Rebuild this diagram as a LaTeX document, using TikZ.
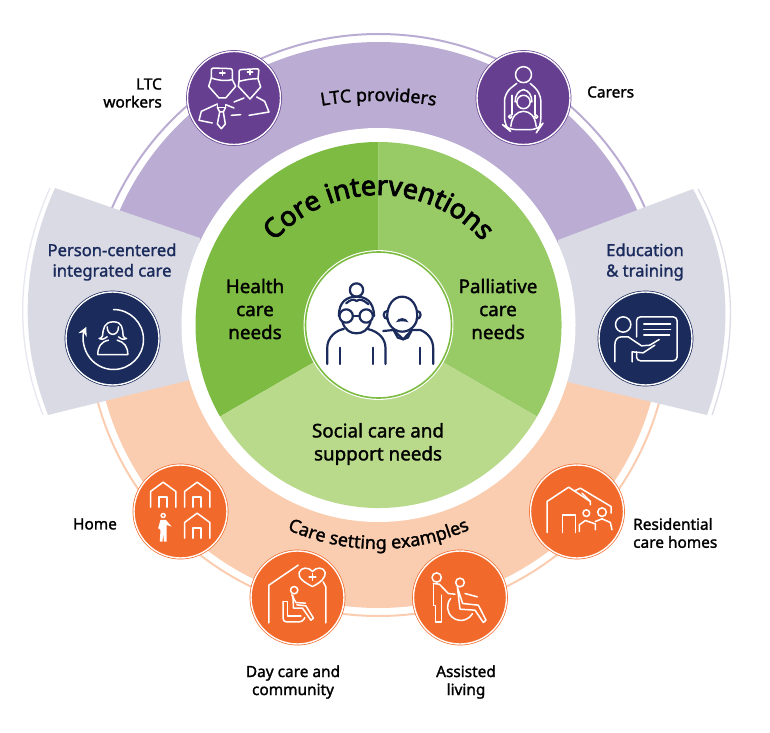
\documentclass[tikz,border=0pt]{standalone}
\usepackage{fontspec}
\usepackage{xcolor}
\usetikzlibrary{positioning, decorations.text, arrows.meta}
\setmainfont{Noto Sans}
\newfontfamily\labelfont[FakeBold=1.6]{Noto Sans}
\newfontfamily\titlefont[FakeBold=3.2]{Noto Sans}
\definecolor{cpurple}{HTML}{673F91}
\definecolor{cpurplelight}{HTML}{BAACD2}
\definecolor{corange}{HTML}{F26A2B}
\definecolor{corangelight}{HTML}{FBCDB0}
\definecolor{cnavy}{HTML}{1A2B5C}
\definecolor{cgrey}{HTML}{DADAE5}
\definecolor{cgreyline}{HTML}{DCDCE8}
\definecolor{cgreendark}{HTML}{7DBB42}
\definecolor{cgreenmid}{HTML}{98CA66}
\definecolor{cgreenlight}{HTML}{B9DA8B}

\begin{document}
\begin{tikzpicture}[
	x=1pt, y=1pt,
	% Estilo para los circulos de iconos
	badge/.style={
		circle,
		draw=#1,
		fill=#1,
		double=white,
		double distance=1.4pt,
		line width=0.7pt,
		minimum size=93pt,
		inner sep=0pt
	},
	% Circulo central
	hub/.style={
		circle,
		draw=white,
		fill=white,
		double=cgreendark,
		double distance=1.6pt,
		line width=1.1pt,
		minimum size=146pt,
		inner sep=0pt
	},
	% Estilo para los textos
	outerlabel/.style={
		font=\labelfont\fontsize{15.4}{18}\selectfont,
		align=center,
		inner sep=0pt
	},
	sidelabel/.style={
		font=\labelfont\fontsize{16.6}{20.5}\selectfont,
		text=cnavy,
		align=center,
		inner sep=0pt
	},
	needlabel/.style={
		font=\labelfont\fontsize{18.8}{23}\selectfont,
		align=center,
		inner sep=0pt
	},
	% Iconos dibujados en coordenadas locales
	icon/.style={shift={(#1.center)}, scale=1/3, yscale=-1},
	iconline/.style={white, line width=1.5pt, line cap=round, line join=round},
	elderline/.style={cnavy, line width=2.2pt, line cap=round, line join=round}
	]
	
	\useasboundingbox (0,0) rectangle (770,732);
	
	% --- Bandas exteriores ---
	\begin{scope}[shift={(378.5,407)}]
		\fill[cpurplelight] (0:283) arc[start angle=0, end angle=180, radius=283pt] -- cycle;
		\fill[corangelight] (180:283) arc[start angle=180, end angle=360, radius=283pt] -- cycle;
		\draw[cpurplelight, line width=2pt] (0:291) arc[start angle=0, end angle=180, radius=291pt];
		\draw[corangelight, line width=2pt] (180:291) arc[start angle=180, end angle=360, radius=291pt];
	\end{scope}
	
	% --- Sectores grises ---
	\fill[cgrey] (200,494) -- (55,544) .. controls (22,470) and (18,393) .. (48,317) -- (190,352) -- cycle;
	\fill[cgrey] (558,492) -- (693,543) .. controls (733,470) and (734,393) .. (707,317) -- (568,350) -- cycle;
	\draw[cgreyline!70, line width=1.3pt] (50,544) .. controls (17,470) and (13,393) .. (43,317);
	\draw[cgreyline, line width=1.3pt] (698,543) .. controls (738,470) and (739,393) .. (712,317);
	
	% --- Circulo de necesidades ---
	\begin{scope}[shift={(378.5,407)}]
		\fill[white] (0,0) circle[radius=197pt];
		\fill[cgreendark] (0,0) -- (90:183) arc[start angle=90, end angle=210, radius=183pt] -- cycle;
		\fill[cgreenmid] (0,0) -- (-30:183) arc[start angle=-30, end angle=90, radius=183pt] -- cycle;
		\fill[cgreenlight] (0,0) -- (210:183) arc[start angle=210, end angle=330, radius=183pt] -- cycle;
		
		% Textos curvos
		\path[decorate, decoration={text along path, text align=center,
			text={|\titlefont\fontsize{27}{27}\selectfont|Core interventions}}]
			(0,-10) ++(150:140) arc[start angle=150, end angle=30, radius=140pt];
		\path[decorate, decoration={text along path, text align=center,
			text={|\labelfont\fontsize{17.8}{20}\selectfont|LTC providers}}]
			(0,-116) ++(105:340) arc[start angle=105, end angle=75, radius=340pt];
		\path[decorate, decoration={text along path, text align=center,
			text={|\labelfont\fontsize{18}{20}\selectfont|Care setting examples}}]
			(215:224) arc[start angle=215, end angle=325, radius=224pt];
	\end{scope}
	
	% Nodos de texto
	\node[needlabel] (health) at (255,423) {Health\\care\\needs};
	\node[needlabel] (palliative) at (498,423) {Palliative\\care\\needs};
	\node[needlabel] (social) at (378,288) {Social care and\\support needs};
	\node[sidelabel] (personlabel) at (112,470) {Person-centered\\integrated care};
	\node[sidelabel] (educationlabel) at (645,470) {Education\\\& training};
	\node[outerlabel, anchor=east, align=right] (workerslabel) at (162,639) {LTC\\workers};
	\node[outerlabel, anchor=west] (carerslabel) at (587,640) {Carers};
	\node[outerlabel] (homelabel) at (95,208) {Home};
	\node[outerlabel, anchor=west, align=left] (residentiallabel) at (633,199) {Residential\\care homes};
	\node[outerlabel] (daycarelabel) at (293,50) {Day care and\\community};
	\node[outerlabel] (assistedlabel) at (466,50) {Assisted\\living};
	
	% Circulos de iconos
	\node[hub] (elders) at (378.5,407) {};
	\node[badge=cpurple] (workers) at (234,634) {};
	\node[badge=cpurple] (carers) at (523.5,634) {};
	\node[badge=cnavy] (person) at (112.5,393.5) {};
	\node[badge=cnavy] (education) at (645.5,393.5) {};
	\node[badge=corange] (home) at (180.5,220.5) {};
	\node[badge=corange] (daycare) at (297.5,134.5) {};
	\node[badge=corange] (assisted) at (460,134.5) {};
	\node[badge=corange] (residential) at (577,220.5) {};
	
	% --- Pareja de ancianos ---
	\begin{scope}[icon=elders, elderline]
		\draw (-66,-105) circle[radius=20pt];
		\draw (-119,-27) .. controls (-119,-70) and (-95,-85) .. (-66,-85) .. controls (-37,-85) and (-15,-70) .. (-13,-27);
		\draw (-97,-27) circle[radius=20pt];
		\draw (-37,-27) circle[radius=20pt];
		\draw (-77,-27) -- (-57,-27);
		\draw (-108,-8) .. controls (-100,15) and (-85,25) .. (-66,25) .. controls (-47,25) and (-32,15) .. (-24,-8);
		\draw (-97,-65) .. controls (-85,-75) and (-75,-80) .. (-66,-72) .. controls (-55,-80) and (-45,-75) .. (-30,-62);
		\draw (-154,117) -- (-154,70) .. controls (-154,35) and (-125,15) .. (-104,12);
		\draw (-32,12) .. controls (0,20) and (21,40) .. (21,70) -- (21,117);
		\draw (-116,68) -- (-116,117);
		\draw (-17,68) -- (-17,117);
		\draw (26,-25) .. controls (26,-60) and (45,-85) .. (71,-85) .. controls (97,-85) and (118,-60) .. (116,-25) .. controls (116,0) and (95,20) .. (71,20) .. controls (47,20) and (28,0) .. cycle;
		\draw (26,-42) .. controls (12,-42) and (12,-18) .. (28,-18);
		\draw (116,-42) .. controls (130,-42) and (130,-18) .. (114,-18);
		\fill[cnavy] (52,-8) .. controls (58,-25) and (84,-25) .. (90,-8) .. controls (80,-12) and (62,-12) .. cycle;
		\draw (14,18) -- (45,15) -- (74,43) -- (100,15) -- (126,15);
		\draw (45,15) -- (58,38) -- (74,43) -- (88,38) -- (100,15);
		\draw (126,15) .. controls (150,25) and (164,45) .. (164,70) -- (164,117);
		\draw (124,68) -- (124,117);
	\end{scope}
	
	% --- Enfermeras ---
	\begin{scope}[icon=workers, iconline]
		\draw[rounded corners=2pt] (-68,-60) -- (-68,-90) -- (-5,-88) -- (-5,-55);
		\draw (-68,-60) .. controls (-45,-52) and (-25,-50) .. (-5,-55);
		\draw (-35,-82) -- (-35,-68) (-43,-75) -- (-27,-75);
		\draw (-68,-60) -- (-76,-35) -- (-45,0) -- (-25,0) -- (5,-35) -- (-5,-55);
		\draw (-65,75) -- (-105,67) -- (-98,40) -- (-50,18);
		\draw (-50,22) -- (-50,28) -- (-25,28) -- (-25,22);
		\draw (-50,28) -- (-43,42) -- (-32,42) -- (-25,28);
		\draw (-43,42) -- (-50,78) -- (-38,92) -- (-26,78) -- (-32,42);
		\draw (-25,20) -- (0,30);
		\draw (-8,52) -- (20,50);
		\draw[rounded corners=2pt] (15,-50) -- (15,-85) -- (75,-88) -- (72,-58);
		\draw (15,-50) .. controls (35,-55) and (55,-58) .. (72,-58);
		\draw (48,-85) -- (48,-70) (40,-78) -- (56,-78);
		\draw (15,-50) -- (13,-35) -- (48,3) -- (80,-33) -- (72,-58);
		\draw (0,12) -- (30,0);
		\draw (68,-3) -- (92,10) -- (105,42) -- (45,52);
	\end{scope}
	
	% --- Cuidador ---
	\begin{scope}[icon=carers, iconline]
		\draw (0,-70) circle[radius=24pt];
		\draw[rounded corners=8pt] (-20,-44) -- (-57,-15) -- (-57,85) -- (-45,95) -- (45,95) -- (52,85) -- (52,-15) -- (20,-44);
		\draw (0,12) circle[radius=20pt];
		\draw (-25,12) .. controls (-25,-10) and (-15,-22) .. (0,-25) .. controls (15,-22) and (25,-10) .. (25,12);
		\draw (-35,-8) -- (-35,50);
		\draw (35,-8) -- (35,50);
		\draw (-40,56) circle[radius=5pt];
		\draw (38,56) circle[radius=5pt];
		\draw (-38,85) .. controls (-35,55) and (-20,40) .. (0,40) .. controls (20,40) and (35,55) .. (38,85);
	\end{scope}
	
	% --- Persona al centro ---
	\begin{scope}[icon=person, iconline]
		\draw[-{Stealth[length=9pt,width=9pt]}] (3,-87) arc[start angle=-90, end angle=205, radius=90pt];
		\draw (-30,-8) .. controls (-28,-30) and (-25,-50) .. (3,-50) .. controls (30,-50) and (30,-30) .. (32,-8) .. controls (34,-2) and (38,0) .. (42,0) .. controls (30,5) and (22,0) .. (18,-5);
		\draw (-30,-8) .. controls (-32,-2) and (-36,0) .. (-40,0) .. controls (-30,5) and (-22,0) .. (-16,-5);
		\draw (-16,-35) .. controls (-16,-5) and (18,-5) .. (18,-35);
		\draw (-12,5) .. controls (-35,10) and (-44,25) .. (-44,48) -- (46,48) .. controls (46,25) and (35,10) .. (14,5);
	\end{scope}
	
	% --- Profesor y pizarra ---
	\begin{scope}[icon=education, iconline]
		\draw (-67,-42) circle[radius=23pt];
		\draw (-92,70) -- (-92,20) .. controls (-92,5) and (-85,-5) .. (-72,-5) -- (-52,-5) -- (-12,22) -- (13,20) -- (41,3);
		\draw (-40,70) -- (-40,40) -- (-7,43) -- (28,20);
		\draw[rounded corners=4pt] (-27,-5) -- (-27,-65) -- (95,-65) -- (95,67) -- (-27,67) -- (-27,40);
		\draw (-5,-43) -- (75,-43);
		\draw (-5,-27) -- (75,-27);
		\draw (-5,-10) -- (72,-10);
	\end{scope}
	
	% --- Casas ---
	\begin{scope}[icon=home, iconline]
		\foreach \hx/\hy in {-52/0, 50/0, 50/93} {
			\draw[shift={(\hx,\hy)}] (-38,-13) -- (-38,-60) -- (0,-88) -- (38,-60) -- (38,-13);
			\draw[shift={(\hx,\hy)}] (-12,-13) -- (-12,-43) -- (12,-43) -- (12,-13);
		}
		\draw (-52,12) circle[radius=6pt];
		\fill[white] (-60,25) -- (-44,25) -- (-27,45) -- (-42,40) -- (-42,90) -- (-50,90) -- (-52,65) -- (-54,90) -- (-62,90) -- (-60,55) -- (-67,50) -- cycle;
	\end{scope}
	
	% --- Centro de dia ---
	\begin{scope}[icon=daycare, iconline]
		\draw (-86,76) -- (-86,-37) -- (2,-97);
		\draw (77,-47) -- (85,-32) -- (85,76);
		\draw[fill=corange] (45,-33) .. controls (20,-45) and (0,-60) .. (5,-75) .. controls (10,-92) and (35,-92) .. (45,-78) .. controls (55,-92) and (80,-92) .. (83,-75) .. controls (85,-60) and (70,-45) .. (45,-33);
		\draw (45,-72) -- (45,-52) (35,-62) -- (55,-62);
		\draw (-10,-22) circle[radius=11pt];
		\draw (-17,-8) -- (-5,15) -- (24,17);
		\draw (-14,-5) -- (-12,32) -- (15,32) -- (40,68) -- (48,62) -- (25,25) -- (-2,22);
		\draw[rounded corners=3pt] (-43,12) -- (-43,73) -- (15,73) -- (22,60);
		\draw (-43,12) -- (-30,12) -- (-30,55) -- (10,55);
	\end{scope}
	
	% --- Silla de ruedas ---
	\begin{scope}[icon=assisted, iconline]
		\draw (-70,-60) circle[radius=14pt];
		\draw (-80,-42) -- (-80,24) -- (-73,24) -- (-73,73) -- (-55,73) -- (-55,-7);
		\draw (-80,-42) -- (-62,-40) -- (-35,-12) -- (-15,-10);
		\draw (-28,3) arc[start angle=-140, end angle=-330, radius=40pt];
		\draw (0,-45) circle[radius=13pt];
		\draw (-8,-32) -- (8,18) -- (55,23) -- (78,68) -- (70,75) -- (45,38) -- (0,35) -- (-8,-32);
		\draw (15,-12) -- (52,-2);
	\end{scope}
	
	% --- Residencia ---
	\begin{scope}[icon=residential, iconline]
		\draw (-90,63) -- (-90,-30) -- (-25,-73) -- (40,-30);
		\draw (-5,-63) -- (10,-70) -- (102,-15) -- (102,5);
		\draw (15,-55) -- (40,-30) -- (40,-20);
		\draw (-43,63) -- (-43,10) -- (-5,10) -- (-5,63);
		\draw (28,5) circle[radius=10pt];
		\draw (75,2) circle[radius=13pt];
		\draw (7,60) -- (7,40) -- (25,27) -- (55,37) -- (55,55);
		\draw (55,30) -- (75,22) -- (100,33) -- (105,55);
	\end{scope}
	
\end{tikzpicture}
\end{document}
